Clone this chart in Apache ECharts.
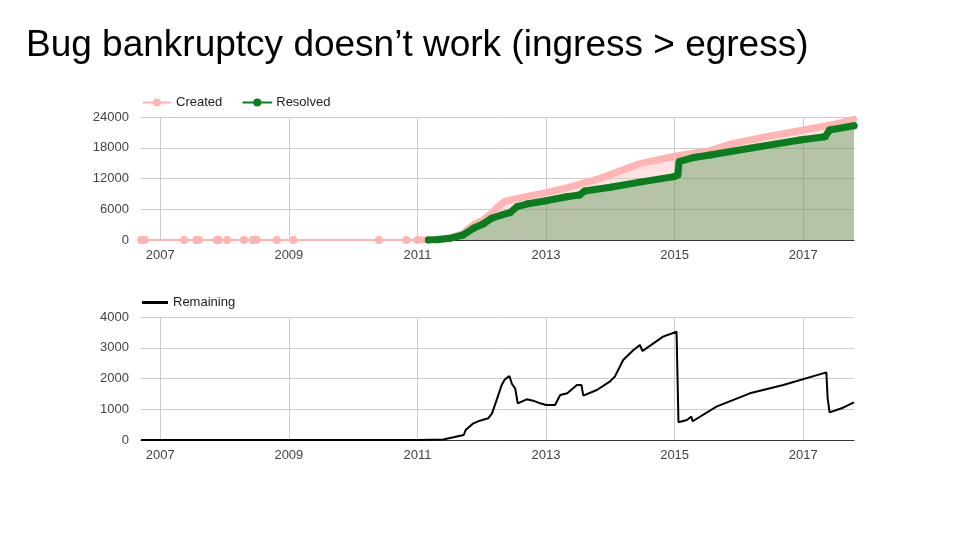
<!DOCTYPE html>
<html>
<head>
<meta charset="utf-8">
<title>Bug bankruptcy</title>
<script src="https://cdn.jsdelivr.net/npm/echarts@6.0.0/dist/echarts.min.js"></script>
<style>
  html, body { margin: 0; padding: 0; background: #fff; }
  #chart { width: 960px; height: 540px; }
</style>
</head>
<body>
<div id="chart"></div>
<script>
// tick labels on the time axis (decimal years)
var yearTicks = [2007, 2009, 2011, 2013, 2015, 2017];

// cumulative created bugs, the sparse early history (single dots near zero)
var createdEarly = [
  [2006.70, 1], [2006.76, 2], [2007.37, 3], [2007.56, 4], [2007.60, 5],
  [2007.88, 6], [2007.91, 7], [2008.04, 8], [2008.30, 9], [2008.44, 10],
  [2008.50, 11], [2008.81, 12], [2009.07, 13], [2010.40, 14], [2010.83, 15],
  [2011.00, 16]
];

// cumulative created bugs from 2011 on
var created = [
  [2011.00, 16], [2011.20, 60], [2011.50, 300], [2011.71, 1300], [2011.87, 2930],
  [2012.02, 3900], [2012.15, 5200], [2012.24, 6370], [2012.35, 7480], [2012.55, 8130],
  [2012.76, 8650], [2013.00, 9250], [2013.32, 10150], [2013.84, 12030], [2014.46, 14900],
  [2015.00, 16350], [2015.55, 17430], [2015.91, 18860], [2016.43, 20160], [2017.00, 21460],
  [2017.47, 22570], [2017.79, 23550]
];

// cumulative resolved bugs
var resolved = [
  [2011.17, 0], [2011.30, 50], [2011.50, 330], [2011.71, 975], [2011.87, 2280],
  [2012.02, 3120], [2012.15, 4230], [2012.31, 4880], [2012.44, 5330], [2012.55, 6500],
  [2012.70, 7020], [2013.00, 7670], [2013.32, 8450], [2013.52, 8780], [2013.60, 9560],
  [2014.00, 10300], [2014.46, 11300], [2014.99, 12360], [2015.05, 12700], [2015.07, 15280],
  [2015.30, 16100], [2015.55, 16600], [2016.17, 17890], [2016.95, 19510], [2017.34, 20160],
  [2017.41, 21460], [2017.79, 22300]
];

// open bugs remaining
var remaining = [
  [2006.70, 0], [2011.00, 0], [2011.40, 15], [2011.56, 87], [2011.72, 163],
  [2011.75, 325], [2011.87, 542], [2011.97, 628], [2012.10, 705], [2012.16, 867],
  [2012.24, 1355], [2012.31, 1789], [2012.36, 1973], [2012.43, 2081], [2012.47, 1821],
  [2012.52, 1680], [2012.56, 1193], [2012.70, 1323], [2012.80, 1279], [2012.91, 1193],
  [2013.00, 1138], [2013.14, 1138], [2013.22, 1463], [2013.33, 1518], [2013.48, 1789],
  [2013.55, 1789], [2013.58, 1441], [2013.79, 1626], [2013.99, 1897], [2014.07, 2060],
  [2014.20, 2602], [2014.36, 2927], [2014.46, 3089], [2014.50, 2894], [2014.67, 3144],
  [2014.82, 3360], [2015.03, 3522], [2015.06, 575], [2015.19, 650], [2015.26, 759],
  [2015.28, 610], [2015.65, 1084], [2016.17, 1518], [2016.69, 1789], [2017.36, 2200],
  [2017.38, 1355], [2017.41, 900], [2017.62, 1051], [2017.79, 1225]
];

var FONT = '"Liberation Sans", Arial, sans-serif';
var PINK = '#ffb3b3';
var GREEN = '#0a7d1e';

function plain(v) { return String(v); }

function xAxisFor(gi) {
  return {
    type: 'value',
    gridIndex: gi,
    min: 2006.7,
    max: 2017.79,
    axisLine: { show: true, onZero: false, lineStyle: { color: '#333', width: 1 } },
    axisTick: { show: false, customValues: yearTicks },
    axisLabel: {
      customValues: yearTicks, color: '#444', fontSize: 13, fontFamily: FONT, margin: 9,
      formatter: plain
    },
    splitLine: { show: true, lineStyle: { color: '#cccccc', width: 1 } }
  };
}

function yAxisFor(gi, max, step) {
  return {
    type: 'value',
    gridIndex: gi,
    min: 0,
    max: max,
    interval: step,
    axisLine: { show: false },
    axisTick: { show: false },
    axisLabel: { color: '#444', fontSize: 13, fontFamily: FONT, margin: 12, formatter: plain },
    splitLine: { show: true, lineStyle: { color: '#cccccc', width: 1 } }
  };
}

var chart = echarts.init(document.getElementById('chart'));

var option = {
  backgroundColor: '#ffffff',
  animation: false,
  textStyle: { fontFamily: FONT },
  title: {
    text: 'Bug bankruptcy doesn\u2019t work (ingress > egress)',
    left: 21,
    top: 22,
    textStyle: { fontSize: 37, fontWeight: 'normal', color: '#000', fontFamily: FONT }
  },
  legend: [
    {
      data: ['Created', 'Resolved'],
      left: 137, top: 91,
      itemWidth: 28, itemHeight: 10, itemGap: 20,
      textStyle: { fontSize: 13, color: '#222', fontFamily: FONT }
    },
    {
      data: [{ name: 'Remaining', icon: 'rect' }],
      left: 137, top: 291,
      itemWidth: 26, itemHeight: 3,
      textStyle: { fontSize: 13, color: '#222', fontFamily: FONT }
    }
  ],
  grid: [
    { left: 141, right: 106, top: 117, height: 123 },
    { left: 141, right: 106, top: 317, height: 123 }
  ],
  xAxis: [xAxisFor(0), xAxisFor(1)],
  yAxis: [yAxisFor(0, 24000, 6000), yAxisFor(1, 4000, 1000)],
  series: [
    {
      name: 'Created',
      type: 'line',
      xAxisIndex: 0, yAxisIndex: 0,
      data: createdEarly,
      symbol: 'circle', symbolSize: 8, showAllSymbol: true,
      lineStyle: { color: PINK, width: 2 },
      itemStyle: { color: PINK },
      silent: true
    },
    {
      name: 'Created',
      type: 'line',
      xAxisIndex: 0, yAxisIndex: 0,
      data: created,
      symbol: 'none',
      lineStyle: { color: PINK, width: 7, cap: 'round', join: 'round' },
      itemStyle: { color: PINK },
      areaStyle: { color: PINK, opacity: 0.38 },
      silent: true
    },
    {
      name: 'Resolved',
      type: 'line',
      xAxisIndex: 0, yAxisIndex: 0,
      data: resolved,
      symbol: 'circle', symbolSize: 7, showAllSymbol: true,
      lineStyle: { color: GREEN, width: 7, cap: 'round', join: 'round' },
      itemStyle: { color: GREEN },
      areaStyle: { color: GREEN, opacity: 0.3 },
      silent: true
    },
    {
      name: 'Remaining',
      type: 'line',
      xAxisIndex: 1, yAxisIndex: 1,
      data: remaining,
      symbol: 'none',
      lineStyle: { color: '#000', width: 2 },
      itemStyle: { color: '#000' },
      silent: true
    }
  ]
};

chart.setOption(option);
</script>
</body>
</html>
